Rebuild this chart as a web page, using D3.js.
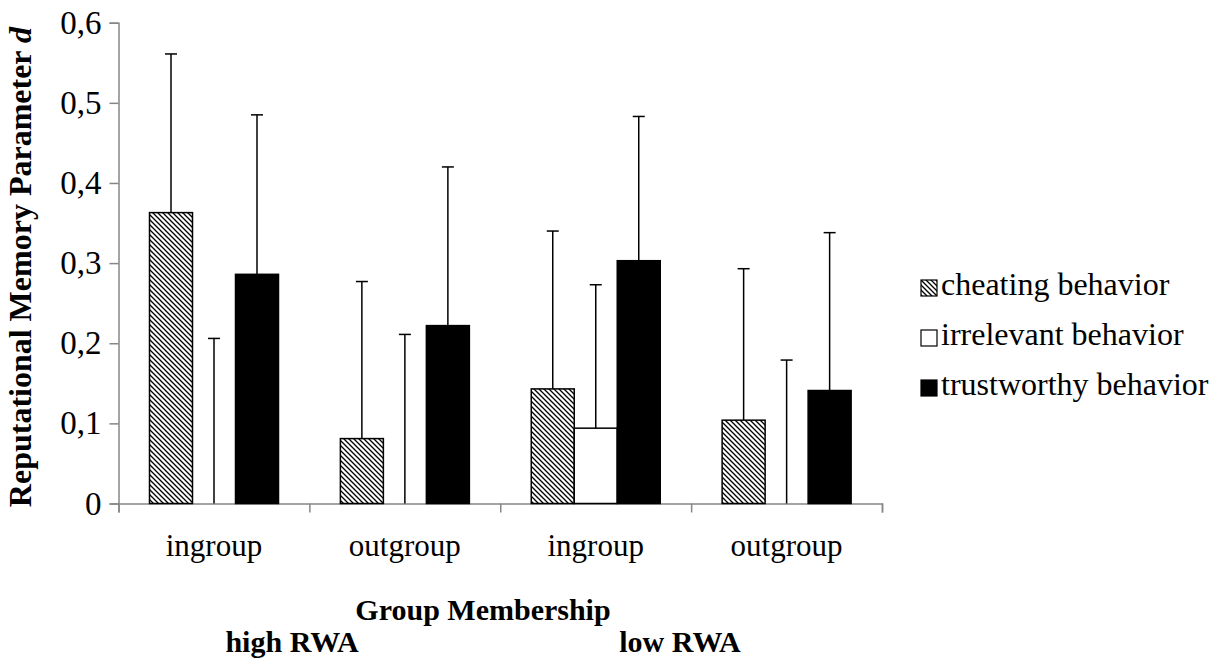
<!DOCTYPE html>
<html>
<head>
<meta charset="utf-8">
<script src="https://cdn.jsdelivr.net/npm/d3@7"></script>
<style>
  body { margin: 0; background: #fff; }
  svg text { font-family: "Liberation Serif", "Times New Roman", serif !important; fill: #000; }
</style>
</head>
<body>
<div id="chart"></div>
<script>
// categories along the x axis
const categories = ["ingroup", "outgroup", "ingroup", "outgroup"];
const groupLabels = ["high RWA", "low RWA"];
const seriesNames = ["cheating behavior", "irrelevant behavior", "trustworthy behavior"];

// bar heights (parameter d) per series
const cheating = [0.363, 0.081, 0.143, 0.104];
const irrelevant = [0.0, 0.0, 0.094, 0.0];
const trustworthy = [0.286, 0.222, 0.303, 0.141];

// top of each error bar
const cheatingUpper = [0.561, 0.277, 0.340, 0.293];
const irrelevantUpper = [0.206, 0.211, 0.273, 0.179];
const trustworthyUpper = [0.485, 0.420, 0.483, 0.338];

const yTicks = [0, 0.1, 0.2, 0.3, 0.4, 0.5, 0.6];

const width = 1226, height = 661;
const margin = { top: 22.7, left: 118.5, right: 882, bottom: 503.5 };
const serif = "'Liberation Serif', 'Times New Roman', serif";

const svg = d3.select("#chart").append("svg")
    .attr("width", width)
    .attr("height", height);

// hatch for cheating bars
const defs = svg.append("defs");
const pat = defs.append("pattern")
    .attr("id", "hatch")
    .attr("patternUnits", "userSpaceOnUse")
    .attr("width", 5)
    .attr("height", 5);
pat.append("rect").attr("width", 5).attr("height", 5).attr("fill", "#fff");
pat.append("path")
    .attr("d", "M-1,-1 L6,6 M-1,4 L1,6 M4,-1 L6,1")
    .attr("stroke", "#000")
    .attr("stroke-width", 1.3);

const x = d3.scaleBand()
    .domain(d3.range(categories.length))
    .range([margin.left, margin.right]);

const xEdges = d3.scaleLinear()
    .domain([0, categories.length])
    .range([margin.left, margin.right]);

const x1 = d3.scaleBand()
    .domain(d3.range(seriesNames.length))
    .range([31, 31 + 43 * 3]);

const y = d3.scaleLinear()
    .domain([0, 0.6])
    .range([margin.bottom, margin.top]);

const series = [
  { name: seriesNames[0], values: cheating, upper: cheatingUpper, fill: "url(#hatch)" },
  { name: seriesNames[1], values: irrelevant, upper: irrelevantUpper, fill: "#fff" },
  { name: seriesNames[2], values: trustworthy, upper: trustworthyUpper, fill: "#000" }
];

// axes
const yAxis = svg.append("g")
    .attr("transform", `translate(${margin.left},0)`)
    .call(d3.axisLeft(y).tickValues(yTicks).tickSize(9).tickPadding(8)
      .tickFormat(d => d === 0 ? "0" : d3.format(".1f")(d).replace(".", ",")));
yAxis.select(".domain").attr("stroke", "#868686").attr("stroke-width", 1.5);
yAxis.selectAll(".tick line").attr("stroke", "#868686").attr("stroke-width", 1.5);
yAxis.selectAll(".tick text").attr("font-size", 33).style("font-family", serif);

const xAxis = svg.append("g")
    .attr("transform", `translate(0,${margin.bottom})`)
    .call(d3.axisBottom(xEdges).tickValues(d3.range(categories.length + 1)).tickSize(9).tickFormat(""));
xAxis.select(".domain").attr("stroke", "#868686").attr("stroke-width", 1.5);
xAxis.selectAll(".tick line").attr("stroke", "#868686").attr("stroke-width", 1.5);

svg.append("g").selectAll("text")
  .data(categories)
  .join("text")
    .attr("x", (d, i) => x(i) + x.bandwidth() / 2)
    .attr("y", 556)
    .attr("text-anchor", "middle")
    .attr("font-size", 31)
    .style("font-family", serif)
    .text(d => d);

// bars
const groups = svg.append("g").selectAll("g")
  .data(series)
  .join("g");

groups.selectAll("rect")
  .data((s, si) => s.values.map((v, i) => ({ v, i, si, fill: s.fill })))
  .join("rect")
    .attr("x", d => x(d.i) + x1(d.si))
    .attr("y", d => y(d.v))
    .attr("width", x1.bandwidth())
    .attr("height", d => y(0) - y(d.v))
    .attr("fill", d => d.fill)
    .attr("stroke", d => d.v > 0 ? "#000" : "none")
    .attr("stroke-width", 1.5);

// error bars (upper only)
const errs = svg.append("g").selectAll("g")
  .data(series.flatMap((s, si) => s.values.map((v, i) => ({ v, up: s.upper[i], i, si }))))
  .join("g")
    .attr("stroke", "#000")
    .attr("stroke-width", 1.5);
errs.append("line")
    .attr("x1", d => x(d.i) + x1(d.si) + x1.bandwidth() / 2)
    .attr("x2", d => x(d.i) + x1(d.si) + x1.bandwidth() / 2)
    .attr("y1", d => y(d.v))
    .attr("y2", d => y(d.up));
errs.append("line")
    .attr("x1", d => x(d.i) + x1(d.si) + x1.bandwidth() / 2 - 6)
    .attr("x2", d => x(d.i) + x1(d.si) + x1.bandwidth() / 2 + 6)
    .attr("y1", d => y(d.up))
    .attr("y2", d => y(d.up));

// y axis title
const yTitle = svg.append("text")
    .attr("transform", `translate(31,${(margin.top + margin.bottom) / 2 + 4}) rotate(-90)`)
    .attr("text-anchor", "middle")
    .attr("font-size", 32)
    .attr("font-weight", "bold")
    .style("font-family", serif);
yTitle.append("tspan").text("Reputational Memory Parameter ");
yTitle.append("tspan").attr("font-style", "italic").text("d");

// x axis title, two lines
svg.append("text")
    .attr("x", 483)
    .attr("y", 620)
    .attr("text-anchor", "middle")
    .attr("font-size", 30)
    .attr("font-weight", "bold")
    .style("font-family", serif)
    .text("Group Membership");

svg.append("g").selectAll("text")
  .data(groupLabels)
  .join("text")
    .attr("x", (d, i) => [292, 680][i])
    .attr("y", 652)
    .attr("text-anchor", "middle")
    .attr("font-size", 30)
    .attr("font-weight", "bold")
    .style("font-family", serif)
    .text(d => d);

// legend
const legend = svg.append("g").selectAll("g")
  .data(series)
  .join("g")
    .attr("transform", (d, i) => `translate(921,${280 + i * 50})`);
legend.append("rect")
    .attr("width", 16)
    .attr("height", 16)
    .attr("fill", d => d.fill)
    .attr("stroke", "#000")
    .attr("stroke-width", 1.2);
legend.append("text")
    .attr("x", 20)
    .attr("y", 15)
    .attr("font-size", 32)
    .style("font-family", serif)
    .text(d => d.name);
</script>
</body>
</html>
